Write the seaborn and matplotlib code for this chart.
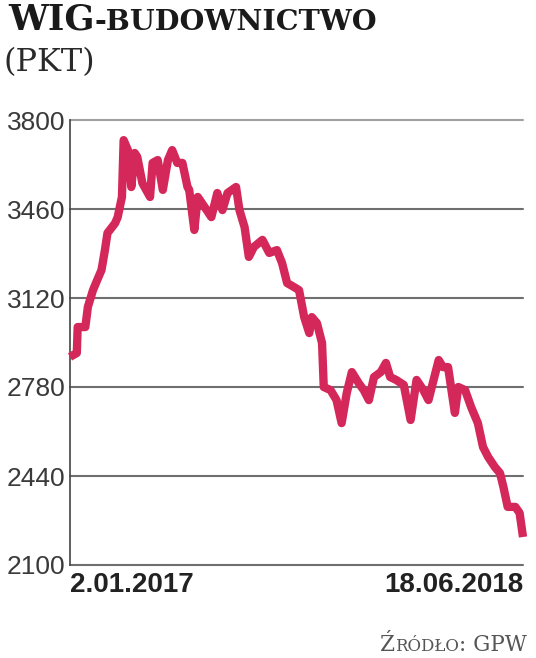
"""
WIG-budownictwo, 2.01.2017 - 18.06.2018 (pkt)
"""

import matplotlib
matplotlib.use('Agg')
import matplotlib.pyplot as plt
import seaborn as sns
import pandas as pd

# 数据：近似值
dates = [
    '2017-01-02', '2017-01-10', '2017-01-11', '2017-01-20', '2017-01-23', '2017-01-29',
    '2017-02-03', '2017-02-08', '2017-02-12', '2017-02-15', '2017-02-24', '2017-02-27',
    '2017-03-04', '2017-03-06', '2017-03-11', '2017-03-15', '2017-03-19', '2017-03-22',
    '2017-03-28', '2017-04-06', '2017-04-09', '2017-04-15', '2017-04-21', '2017-04-27',
    '2017-05-02', '2017-05-08', '2017-05-14', '2017-05-20', '2017-05-22', '2017-05-28',
    '2017-06-01', '2017-06-09', '2017-06-17', '2017-06-24', '2017-06-30', '2017-07-06',
    '2017-07-16', '2017-07-20', '2017-07-26', '2017-07-31', '2017-08-06', '2017-08-16',
    '2017-08-24', '2017-09-02', '2017-09-08', '2017-09-14', '2017-09-22', '2017-09-28',
    '2017-10-04', '2017-10-10', '2017-10-13', '2017-10-19', '2017-10-25', '2017-10-27',
    '2017-11-04', '2017-11-11', '2017-11-17', '2017-11-23', '2017-11-29', '2017-12-07',
    '2017-12-13', '2017-12-19', '2017-12-25', '2018-01-02', '2018-01-08', '2018-01-13',
    '2018-01-20', '2018-01-29', '2018-02-06', '2018-02-13', '2018-02-21', '2018-02-27',
    '2018-03-05', '2018-03-11', '2018-03-16', '2018-03-22', '2018-03-26', '2018-03-30',
    '2018-04-03', '2018-04-11', '2018-04-18', '2018-04-26', '2018-05-02', '2018-05-08',
    '2018-05-16', '2018-05-22', '2018-05-26', '2018-05-31', '2018-06-09', '2018-06-14',
    '2018-06-18',
]
values = [
    2895, 2910, 3009, 3009, 3086, 3150,
    3189, 3227, 3303, 3368, 3406, 3429,
    3506, 3723, 3685, 3544, 3674, 3659,
    3559, 3506, 3636, 3647, 3533, 3647,
    3685, 3636, 3636, 3544, 3533, 3380,
    3506, 3468, 3429, 3521, 3456, 3521,
    3544, 3456, 3391, 3277, 3315, 3342,
    3292, 3303, 3254, 3177, 3162, 3150,
    3047, 2986, 3047, 3024, 2948, 2780,
    2768, 2730, 2642, 2757, 2837, 2795,
    2768, 2730, 2818, 2837, 2872, 2818,
    2807, 2788, 2654, 2807, 2768, 2730,
    2807, 2883, 2856, 2856, 2768, 2681,
    2780, 2768, 2704, 2642, 2551, 2513,
    2474, 2451, 2398, 2322, 2322, 2299,
    2207,
]
y_ticks = [2100, 2440, 2780, 3120, 3460, 3800]
x_labels = ['2.01.2017', '18.06.2018']

LINE_COLOR = '#d4285a'


def place_row(fig, renderer, parts, x0, y0, align='left'):
    """按顺序排列一行不同字号的文字（像素坐标）。"""
    W, H = fig.bbox.width, fig.bbox.height
    texts = []
    x = x0
    seq = parts if align == 'left' else parts[::-1]
    for s, kw in seq:
        t = fig.text(x / W, y0 / H, s, ha=align, va='baseline', **kw)
        bb = t.get_window_extent(renderer)
        x = bb.x1 if align == 'left' else bb.x0
        texts.append(t)
    return texts


def main():
    sns.set_style('white')
    plt.rcParams['font.family'] = ['Liberation Sans', 'DejaVu Sans']

    df = pd.DataFrame({'date': pd.to_datetime(dates), 'value': values})

    fig = plt.figure(figsize=(5.36, 6.58), dpi=100)
    ax = fig.add_axes([70 / 536, 1 - 565 / 658, 453 / 536, 445 / 658])

    sns.lineplot(data=df, x='date', y='value', ax=ax, color=LINE_COLOR,
                 linewidth=6, solid_joinstyle='round', solid_capstyle='butt',
                 clip_on=False, zorder=5)

    ax.set_ylim(y_ticks[0], y_ticks[-1])
    ax.set_xlim(df['date'].iloc[0], df['date'].iloc[-1])
    ax.set_yticks(y_ticks)
    ax.set_yticklabels([str(v) for v in y_ticks], fontsize=19, color='#3a3a3a')
    ax.set_xticks([df['date'].iloc[0], df['date'].iloc[-1]])
    ax.set_xticklabels(x_labels, fontsize=20, fontweight='bold', color='#222222')
    lab = ax.get_xticklabels()
    lab[0].set_ha('left')
    lab[1].set_ha('right')
    ax.tick_params(axis='y', length=0, pad=3.5)
    ax.tick_params(axis='x', length=0, pad=5)
    ax.set_xlabel('')
    ax.set_ylabel('')

    # 横向网格线
    ax.yaxis.grid(True, color='#6f6f6f', linewidth=1.5)
    ax.xaxis.grid(False)
    for gl in ax.get_ygridlines():
        gl.set_clip_on(False)
    ax.get_ygridlines()[-1].set_color('#a0a0a0')

    for side in ['top', 'right', 'bottom']:
        ax.spines[side].set_visible(False)
    ax.spines['left'].set_color('#444444')
    ax.spines['left'].set_linewidth(1.2)

    renderer = fig.canvas.get_renderer()
    H = fig.bbox.height

    # 标题
    serif_b = dict(family=['DejaVu Serif', 'Liberation Serif'], fontweight='bold', color='#1a1a1a')
    place_row(fig, renderer, [
        ('WIG', dict(fontsize=25.5, **serif_b)),
        ('-BUDOWNICTWO', dict(fontsize=20.5, **serif_b)),
    ], 8, H - 30)
    fig.text(3 / 536, 1 - 71 / 658, '(PKT)', family=['DejaVu Serif', 'Liberation Serif'],
             fontsize=23, color='#2a2a2a', va='baseline', ha='left')

    # 来源
    src = dict(family=['DejaVu Serif', 'Liberation Serif'], color='#555555')
    place_row(fig, renderer, [
        ('Ź', dict(fontsize=15.5, **src)),
        ('RÓDŁO', dict(fontsize=12, **src)),
        (': GPW', dict(fontsize=15.5, **src)),
    ], 527, H - 651, align='right')

    fig.savefig('out.png', dpi=100)


if __name__ == '__main__':
    main()
